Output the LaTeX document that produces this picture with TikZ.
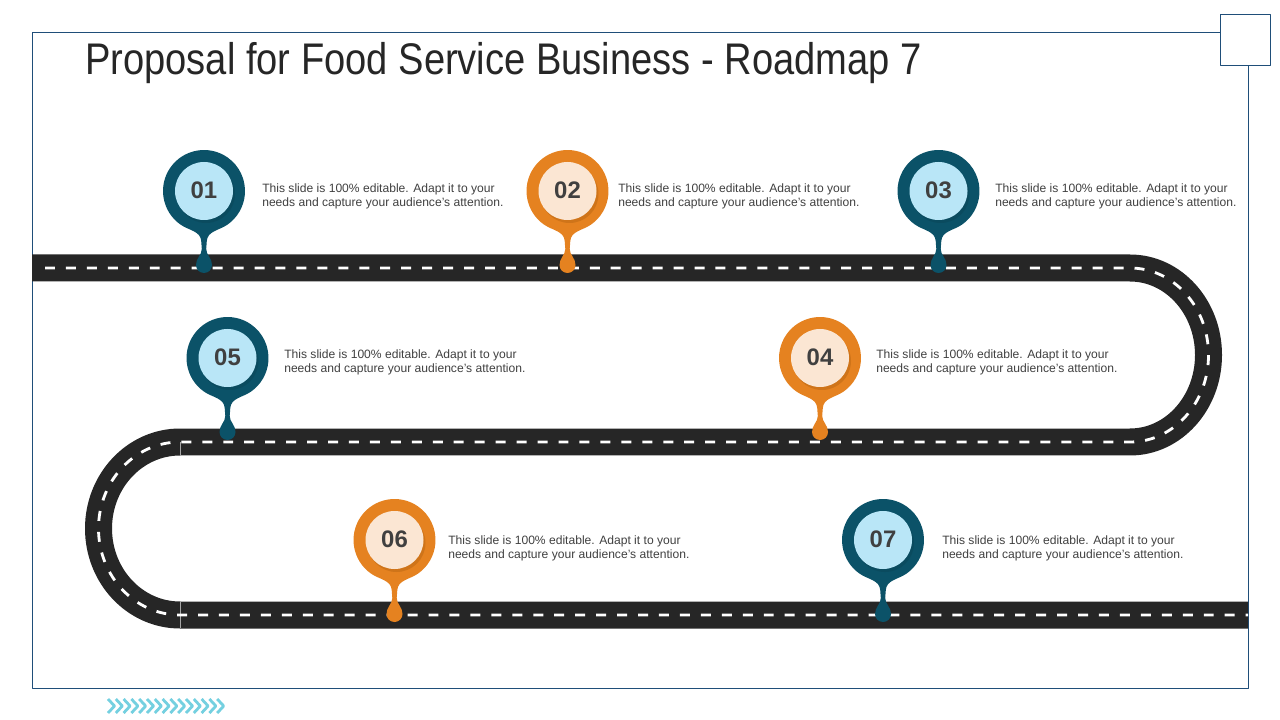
\documentclass[tikz,border=0pt]{standalone}
\usepackage{fontspec}
\setmainfont{Liberation Sans}
\newfontfamily\titlefont[FakeStretch=0.86]{Liberation Sans}
\definecolor{framecol}{HTML}{1F4E79}
\definecolor{roadcol}{HTML}{262626}
\definecolor{tealpin}{HTML}{0B5268}
\definecolor{tealin}{HTML}{B9E6F7}
\definecolor{tealsh}{HTML}{0A4B5F}
\definecolor{orangepin}{HTML}{E58220}
\definecolor{orangein}{HTML}{FBE6D3}
\definecolor{orangesh}{HTML}{CF7419}
\definecolor{chevcol}{HTML}{74D0E0}
\definecolor{bodycol}{HTML}{404040}
\tikzset{
  road/.style={draw=roadcol,line width=19.2pt},
  lane/.style={draw=white,line width=2pt,dash pattern=on 7.1pt off 7.8pt},
  seam/.style={draw=gray!70,line width=.4pt},
  blurb/.style={anchor=west,align=left,text=bodycol,inner sep=0pt,font=\fontsize{8.6}{10}\selectfont},
  numb/.style={text=bodycol,inner sep=0pt,font=\fontsize{17}{20}\selectfont\bfseries}
}
\begin{document}
\begin{tikzpicture}[x=0.025cm,y=-0.025cm,line join=round]
\useasboundingbox (0,0) rectangle (1280,720);
\draw[framecol,line width=.7pt] (32,32) rectangle (1248,688);
\draw[framecol,fill=white,line width=.7pt] (1220,14) rectangle (1270,65);
\node (title) at (85,63) [anchor=west,inner sep=0pt,text=black!85,font=\fontsize{31.5}{34}\titlefont] {Proposal for Food Service Business - Roadmap 7};
% road
\draw[road] (32,268)--(1130,268) arc[start angle=-90,end angle=90,x radius=78.5,y radius=87]
  --(180,442) arc[start angle=270,end angle=90,x radius=81.5,y radius=86.5]--(1248,615);
\draw[seam] (180,442)--(180,455) (180,602)--(180,628);
\draw[lane] (45,268)--(1130,268) arc[start angle=-90,end angle=90,x radius=78.5,y radius=87]
  --(180,442) arc[start angle=270,end angle=90,x radius=81.5,y radius=86.5]--(1248,615);
% pins
\foreach \px/\py/\ty/\col/\num/\tx in {204/191/196/teal/01/262,567.5/191/196/orange/02/618,938.5/191/196/teal/03/995,
  820/358/362/orange/04/876,227.5/358/362/teal/05/284,394.5/540/548/orange/06/448,883/540/548/teal/07/942}{
  \begin{scope}[shift={(\px,\py)}]
  \fill[\col pin] (-23.5,33.6) arc[start angle=125,end angle=415,radius=41]
    .. controls (15,39.5) and (3.5,40) .. (2.8,50) -- (2.2,58)
    .. controls (2.2,64) and (8,67) .. (8,74) arc[start angle=0,end angle=180,radius=8]
    .. controls (-8,67) and (-2.2,64) .. (-2.2,58) -- (-2.8,50)
    .. controls (-3.5,40) and (-15,39.5) .. cycle;
  \fill[\col sh] (2,3) circle[radius=29];
  \fill[\col in] (0,0) circle[radius=29];
  \node (num\num) at (0,-1) [numb] {\num};
  \end{scope}
  \node (txt\num) at (\tx,\ty) [blurb] {This slide is 100\% editable. Adapt it to your\\needs and capture your audience's attention.};
}
% chevrons
\foreach \i in {0,...,14}{
  \draw[chevcol,line width=2pt] (108+7.8*\i,699)--(114.5+7.8*\i,706)--(108+7.8*\i,713);
}
\end{tikzpicture}
\end{document}
